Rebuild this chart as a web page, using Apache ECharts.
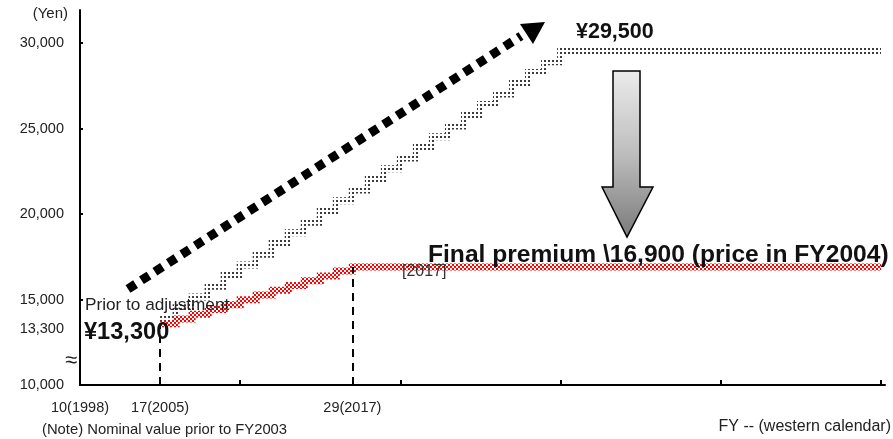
<!DOCTYPE html>
<html>
<head>
<meta charset="utf-8">
<script src="https://cdn.jsdelivr.net/npm/echarts@6/dist/echarts.min.js"></script>
<style>
  html, body { margin: 0; padding: 0; background: #fff; }
  #chart { width: 893px; height: 439px; }
</style>
</head>
<body>
<div id="chart"></div>
<script>
// Premium schedule after the 2004 reform (price in FY2004), stepped each fiscal year
const redYears  = [2005, 2006, 2007, 2008, 2009, 2010, 2011, 2012, 2013, 2014, 2015, 2016, 2017, 2050];
const redValues = [13580, 13860, 14140, 14420, 14700, 14980, 15260, 15540, 15820, 16100, 16380, 16660, 16900, 16900];

// Nominal premium path (with wage growth), stepped each fiscal year
const greyYears  = [2005, 2006, 2007, 2008, 2009, 2010, 2011, 2012, 2013, 2014, 2015, 2016, 2017,
                    2018, 2019, 2020, 2021, 2022, 2023, 2024, 2025, 2026, 2027, 2028, 2029, 2030, 2050];
const greyValues = [13900, 14520, 15150, 15770, 16400, 17020, 17650, 18270, 18900, 19520, 20150, 20770, 21400,
                    22020, 22650, 23270, 23900, 24520, 25150, 25770, 26400, 27020, 27650, 28270, 28900, 29500, 29500];

// Axis ticks and labels
const yLabelValues = [10000, 13300, 15000, 20000, 25000, 30000];
const yTickValues  = [10000, 15000, 20000, 25000, 30000];
const xTickValues  = [2010, 2020, 2030, 2040, 2050];
const xLabelValues = [2000, 2005, 2017];
const xLabelTexts  = ['10(1998)', '17(2005)', '29(2017)'];

const FONT = '"Liberation Sans", Arial, Helvetica, sans-serif';

// small repeating tiles used as stroke fills for the stepped lines
function makeTile(size, cells, color, bg) {
  const c = document.createElement('canvas');
  c.width = size; c.height = size;
  const ctx = c.getContext('2d');
  if (bg) { ctx.fillStyle = bg; ctx.fillRect(0, 0, size, size); }
  ctx.fillStyle = color;
  cells.forEach(([x, y, w, h]) => ctx.fillRect(x, y, w, h));
  return { image: c, repeat: 'repeat' };
}

const redPattern  = makeTile(4, [[0, 0, 2, 2], [2, 2, 2, 2]], '#ff0000', '#fff');
const greyPattern = makeTile(4, [[0, 0, 2, 2]], '#3c3c3c', null);

const chart = echarts.init(document.getElementById('chart'), null, { renderer: 'canvas' });

const option = {
  animation: false,
  backgroundColor: '#fff',
  grid: { left: 80, right: 8, top: 10, bottom: 54, containLabel: false },
  xAxis: {
    type: 'value',
    min: 2000,
    max: 2050.25,
    splitLine: { show: false },
    axisLine: { onZero: false, lineStyle: { color: '#000', width: 2 } },
    axisTick: { inside: true, length: 5, lineStyle: { color: '#000', width: 2 }, customValues: xTickValues },
    axisLabel: {
      customValues: xLabelValues,
      formatter: v => xLabelTexts[xLabelValues.indexOf(v)] || '',
      color: '#222', fontSize: 14.5, fontFamily: FONT, margin: 15
    }
  },
  yAxis: {
    type: 'value',
    min: 10000,
    max: 31930,
    splitLine: { show: false },
    axisLine: { show: true, onZero: false, lineStyle: { color: '#000', width: 2 } },
    axisTick: { show: true, inside: true, length: 3, lineStyle: { color: '#000', width: 2 }, customValues: yTickValues },
    axisLabel: {
      customValues: yLabelValues,
      formatter: v => v.toLocaleString('en-US'),
      color: '#222', fontSize: 14.5, fontFamily: FONT, margin: 16
    }
  },
  series: [
    {
      name: 'nominal',
      type: 'line',
      step: 'end',
      symbol: 'none',
      data: greyYears.map((y, i) => [y, greyValues[i]]),
      lineStyle: { color: greyPattern, width: 7, cap: 'butt', join: 'miter' },
      z: 2
    },
    {
      name: 'final',
      type: 'line',
      step: 'end',
      symbol: 'none',
      data: redYears.map((y, i) => [y, redValues[i]]),
      lineStyle: { color: redPattern, width: 7, cap: 'butt', join: 'miter' },
      z: 3,
      markLine: {
        silent: true,
        symbol: 'none',
        label: { show: false },
        lineStyle: { color: '#000', width: 2, type: [8, 6] },
        data: [
          [{ coord: [2005, 10000] }, { coord: [2005, redValues[0]] }],
          [{ coord: [2017, 10000] }, { coord: [2017, redValues[12]] }]
        ]
      }
    }
  ],
  graphic: [
    // dotted rising arrow
    {
      type: 'line', z: 10,
      shape: { x1: 128, y1: 289, x2: 521, y2: 36 },
      style: { stroke: '#000', lineWidth: 9, lineDash: [9, 7], lineCap: 'butt' }
    },
    {
      type: 'polygon', z: 10,
      shape: { points: [[545, 22], [533, 44], [520, 24]] },
      style: { fill: '#000' }
    },
    // downward block arrow
    {
      type: 'polygon', z: 10,
      shape: { points: [[613, 71], [640, 71], [640, 187], [653, 187], [627, 237], [602, 187], [613, 187]] },
      style: {
        fill: new echarts.graphic.LinearGradient(0, 0, 0, 1, [
          { offset: 0, color: '#ececec' },
          { offset: 0.5, color: '#bdbdbd' },
          { offset: 1, color: '#7a7a7a' }
        ]),
        stroke: '#000', lineWidth: 1.5
      }
    },
    // texts
    { type: 'text', z: 20, style: { text: '(Yen)', x: 68, y: 14, textAlign: 'right', textVerticalAlign: 'middle', font: '15px ' + FONT, fill: '#222' } },
    { type: 'text', z: 20, style: { text: '¥29,500', x: 576, y: 32, textAlign: 'left', textVerticalAlign: 'middle', font: 'bold 21.5px ' + FONT, fill: '#111' } },
    { type: 'text', z: 20, style: { text: 'Final premium \\16,900 (price in FY2004)', x: 428, y: 255, textAlign: 'left', textVerticalAlign: 'middle', font: 'bold 24.6px ' + FONT, fill: '#111' } },
    { type: 'text', z: 20, style: { text: '[2017]', x: 402, y: 272, textAlign: 'left', textVerticalAlign: 'middle', font: '16px ' + FONT, fill: '#333' } },
    { type: 'text', z: 20, style: { text: 'Prior to adjustment', x: 85, y: 305, textAlign: 'left', textVerticalAlign: 'middle', font: '17.2px ' + FONT, fill: '#222' } },
    { type: 'text', z: 20, style: { text: '¥13,300', x: 84, y: 332, textAlign: 'left', textVerticalAlign: 'middle', font: 'bold 23.6px ' + FONT, fill: '#111' } },
    { type: 'text', z: 20, style: { text: '≈', x: 71, y: 361, textAlign: 'center', textVerticalAlign: 'middle', font: '22px ' + FONT, fill: '#222' } },
    { type: 'text', z: 20, style: { text: '(Note) Nominal value prior to FY2003', x: 42, y: 430, textAlign: 'left', textVerticalAlign: 'middle', font: '14.8px ' + FONT, fill: '#222' } },
    { type: 'text', z: 20, style: { text: 'FY -- (western calendar)', x: 891, y: 427, textAlign: 'right', textVerticalAlign: 'middle', font: '16px ' + FONT, fill: '#222' } }
  ]
};

chart.setOption(option);
</script>
</body>
</html>
